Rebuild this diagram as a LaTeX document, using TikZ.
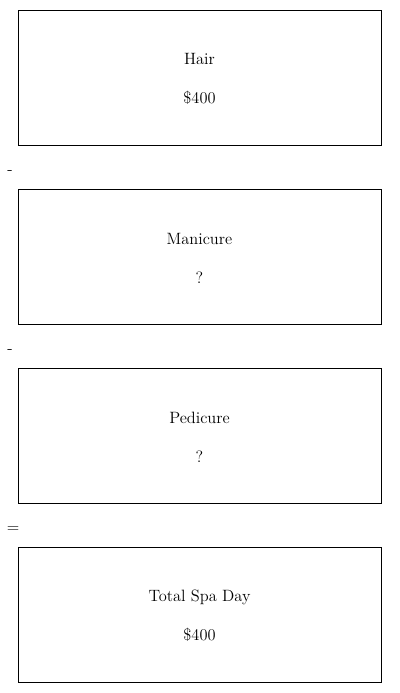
\documentclass[tikz,border=0pt]{standalone}
\begin{document}
\begin{tikzpicture}[x=0.75pt,y=-0.75pt,
  box/.style={draw,line width=0.75pt,minimum width=363*0.75pt,minimum height=135*0.75pt,inner sep=0pt},
  txt/.style={align=center,inner sep=0pt,font=\fontsize{12.3}{29.25}\selectfont},
  op/.style={inner sep=0pt,anchor=base,font=\fontsize{12.3}{14}\selectfont}]
\useasboundingbox (0,0) rectangle (400,693);
\node[box] (hair) at (199.5,77.5) {};
\node[box] (mani) at (199.5,256.5) {};
\node[box] (pedi) at (199.5,435.5) {};
\node[box] (total) at (199.5,614.5) {};
\node[txt] (hairt) at ([yshift=-1.5*0.75pt]hair.center) {Hair\\\$400};
\node[txt] (manit) at ([yshift=-1.5*0.75pt]mani.center) {Manicure\\?};
\node[txt] (pedit) at ([yshift=-1.5*0.75pt]pedi.center) {Pedicure\\?};
\node[txt] (totalt) at ([yshift=-1.5*0.75pt]total.center) {Total Spa Day\\\$400};
\node[op] (op1) at (10,174) {-};
\node[op] (op2) at (10,353) {-};
\node[op] (op3) at (13,532) {=};
\end{tikzpicture}
\end{document}
